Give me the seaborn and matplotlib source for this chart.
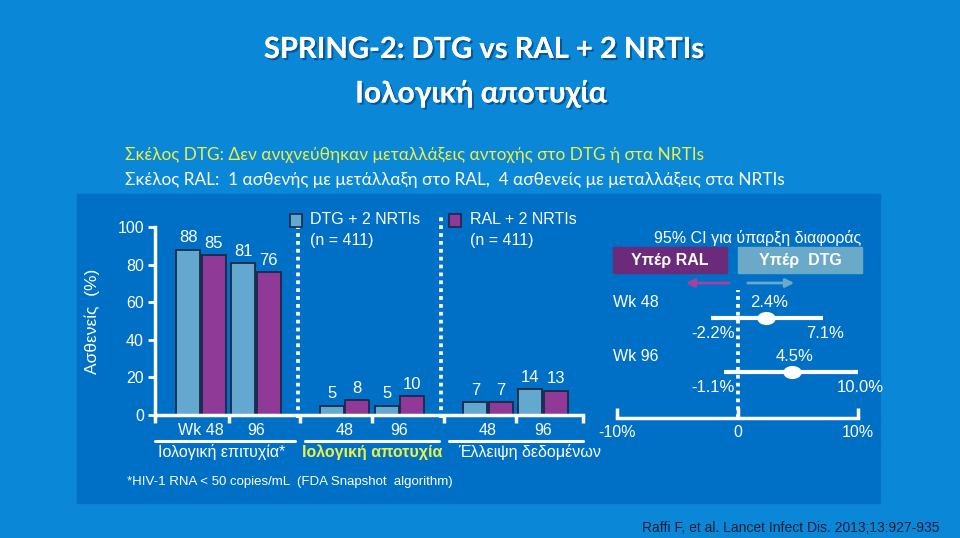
import matplotlib
matplotlib.use("Agg")
import matplotlib.pyplot as plt
import matplotlib.patheffects as pe
from matplotlib.patches import Rectangle, FancyArrowPatch
from matplotlib.path import Path
from matplotlib.transforms import Affine2D
import matplotlib.transforms as mtrans
import pandas as pd
import seaborn as sns

# ---------------- data ----------------
arms = ["DTG + 2 NRTIs", "RAL + 2 NRTIs"]
arm_n = ["(n = 411)", "(n = 411)"]
group_labels = ["Ιολογική επιτυχία*", "Ιολογική αποτυχία", "Έλλειψη δεδομένων"]
week_labels = ["Wk 48", "96", "48", "96", "48", "96"]
dtg_values = [88, 81, 5, 5, 7, 14]
ral_values = [85, 76, 8, 10, 7, 13]
y_ticks = [0, 20, 40, 60, 80, 100]

ci_rows = ["Wk 48", "Wk 96"]
ci_diff = [2.4, 4.5]
ci_low = [-2.2, -1.1]
ci_high = [7.1, 10.0]
ci_ticks = [-10, 0, 10]
ci_tick_labels = ["-10%", "0", "10%"]

title_1 = "SPRING-2: DTG vs RAL + 2 NRTIs"
title_2 = "Ιολογική αποτυχία"
sub_1 = "Σκέλος DTG: Δεν ανιχνεύθηκαν μεταλλάξεις αντοχής στο DTG ή στα NRTIs"
sub_2 = "Σκέλος RAL:  1 ασθενής με μετάλλαξη στο RAL,  4 ασθενείς με μεταλλάξεις στα NRTIs"
footnote = "*HIV-1 RNA < 50 copies/mL  (FDA Snapshot  algorithm)"
citation = "Raffi F, et al. Lancet Infect Dis. 2013;13:927-935"
ci_header = "95% CI για ύπαρξη διαφοράς"
favor_ral = "Υπέρ RAL"
favor_dtg = "Υπέρ  DTG"
ylabel = "Ασθενείς  (%)"

# ---------------- style ----------------
OUTER = "#0a87d6"
PANEL = "#0070c6"
DTG_C = "#63a9cf"
RAL_C = "#8e3a96"
EDGE = "#1b2846"
YELLOW = "#eef04a"
WHITE = "white"

sns.set_theme(style="ticks")
plt.rcParams["font.family"] = ["Liberation Sans", "DejaVu Sans"]
plt.rcParams["text.color"] = WHITE
plt.rcParams["axes.labelcolor"] = WHITE
plt.rcParams["xtick.color"] = WHITE
plt.rcParams["ytick.color"] = WHITE

W, H = 960, 538
fig = plt.figure(figsize=(9.6, 5.38), dpi=100, facecolor=OUTER)


def fx(x):
    return x / W


def fy(y):
    return 1 - y / H


# inner panel
fig.patches.append(Rectangle((fx(77), fy(503)), fx(880) - fx(77), fy(194) - fy(503),
                             transform=fig.transFigure, color=PANEL, zorder=-5))

# titles
title_font = ["Lato", "Open Sans", "DejaVu Sans"]
shadow = [pe.withSimplePatchShadow(offset=(1.5, -1.5), shadow_rgbFace="#002850", alpha=0.5), pe.Normal()]
fig.text(fx(484), fy(50), title_1, ha="center", va="center", fontsize=21, fontweight="bold",
         family=title_font, color=WHITE, path_effects=shadow)
fig.text(fx(481), fy(93), title_2, ha="center", va="center", fontsize=21.5, fontweight="bold",
         family=title_font, color=WHITE, path_effects=shadow)
fig.text(fx(125), fy(155), sub_1, ha="left", va="center", fontsize=12.4, family=title_font, color=YELLOW)
fig.text(fx(125), fy(180), sub_2, ha="left", va="center", fontsize=12.4, family=title_font, color=WHITE)

# ---------------- bar chart ----------------
ax = fig.add_axes([fx(155), fy(415), fx(583) - fx(155), fy(227) - fy(415)])
ax.set_facecolor("none")

group_gap = 2.61
positions = [g * group_gap + w for g in range(3) for w in range(2)]
df = pd.DataFrame({
    "pos": positions * 2,
    "arm": [arms[0]] * 6 + [arms[1]] * 6,
    "value": dtg_values + ral_values,
})
sns.barplot(data=df, x="pos", y="value", hue="arm", hue_order=arms, native_scale=True,
            palette=[DTG_C, RAL_C], saturation=1, width=0.92, gap=0.05, errorbar=None,
            edgecolor=EDGE, linewidth=1.3, legend=False, ax=ax)

for cont in ax.containers:
    ax.bar_label(cont, fmt="%g", padding=3, color=WHITE, fontsize=12)

x_left = (155 - 201) / 55
x_right = (583 - 201) / 55
ax.set_xlim(x_left, x_right)
ax.set_ylim(0, 100)
ax.set_yticks(y_ticks)
ax.set_xticks(positions)
ax.set_xticklabels(week_labels, fontsize=11.5)
ax.tick_params(axis="x", length=0, pad=6)
bounds = [x_left] + [(positions[i] + positions[i + 1]) / 2 for i in range(5)] + [x_right]
ax.set_xticks(bounds, minor=True)
ax.tick_params(axis="x", which="minor", length=6, width=2.5, color=WHITE, direction="out")
ax.tick_params(axis="y", length=5, width=2, color=WHITE, labelsize=11.5, pad=3)
for s in ["top", "right"]:
    ax.spines[s].set_visible(False)
for s in ["left", "bottom"]:
    ax.spines[s].set_color(WHITE)
    ax.spines[s].set_linewidth(2.5)
ax.set_xlabel("")
ax.set_ylabel(ylabel, fontsize=12.5)
ax.yaxis.set_label_coords((100 - 155) / 428, 0.5)

blend = mtrans.blended_transform_factory(ax.transData, ax.transAxes)
# dotted separators
for i in (1, 3):
    xs = (positions[i] + positions[i + 1]) / 2 - 0.05
    ax.plot([xs, xs], [-0.016, 1.053], transform=blend, color=WHITE, lw=2.7,
            linestyle=(0, (1, 1.1)), clip_on=False)
# group underlines and labels
for g in range(3):
    a = bounds[2 * g] + (0.0 if g == 0 else 0.09)
    b = bounds[2 * g + 2] - (0.09 if g < 2 else 0.0)
    ax.plot([a, b], [-0.138, -0.138], transform=blend, color=WHITE, lw=2.2, clip_on=False)
    cx = g * group_gap + 0.5
    if g == 1:
        ax.text(cx, -0.197, group_labels[g], transform=blend, ha="center", va="center",
                fontsize=11.5, fontweight="bold", color=YELLOW)
    else:
        ax.text(cx + (-0.12 if g == 0 else 0.25), -0.197, group_labels[g], transform=blend,
                ha="center", va="center", fontsize=11.5, color=WHITE)

# legend (manual)
for (lx, tx), col, name, n in zip([(290, 310), (449, 470)], [DTG_C, RAL_C], arms, arm_n):
    fig.patches.append(Rectangle((fx(lx), fy(227)), fx(12), 13 / H, transform=fig.transFigure,
                                 facecolor=col, edgecolor=EDGE, lw=1.2, zorder=3))
    fig.text(fx(tx), fy(220), name, ha="left", va="center", fontsize=11.5)
    fig.text(fx(tx), fy(240), n, ha="left", va="center", fontsize=11.5)

fig.text(fx(127), fy(482), footnote, ha="left", va="center", fontsize=9.5)

# ---------------- forest plot ----------------
fx_ax = fig.add_axes([fx(617), fy(418), fx(858) - fx(617), fy(290) - fy(418)])
fx_ax.set_facecolor("none")
rows_y = list(range(len(ci_rows)))
fx_ax.set_xlim(-10, 10)
fx_ax.set_ylim(1.85, -0.52)
fx_ax.axvline(0, color=WHITE, lw=2.7, linestyle=(0, (1, 1.1)), zorder=1)
fx_ax.hlines(rows_y, ci_low, ci_high, color=WHITE, lw=3, zorder=2)
ellipse = Path(Affine2D().scale(1.45, 1.0).transform(Path.unit_circle().vertices),
               Path.unit_circle().codes)
sns.scatterplot(x=ci_diff, y=rows_y, marker=ellipse, s=150, color=WHITE, edgecolor=WHITE,
                zorder=3, ax=fx_ax, legend=False)
for yv, lab, d, lo, hi in zip(rows_y, ci_rows, ci_diff, ci_low, ci_high):
    fx_ax.annotate(lab, (-10, yv), xytext=(-4, 16), textcoords="offset pixels",
                   ha="left", va="center", fontsize=11.5, color=WHITE)
    fx_ax.annotate(f"{d:.1f}%", (d, yv), xytext=(3, 16), textcoords="offset pixels",
                   ha="center", va="center", fontsize=12, color=WHITE)
    fx_ax.annotate(f"{lo:.1f}%", (0, yv), xytext=(-3, -15), textcoords="offset pixels",
                   ha="right", va="center", fontsize=12, color=WHITE)
    fx_ax.annotate(f"{hi:.1f}%", (hi, yv), xytext=(2, -15), textcoords="offset pixels",
                   ha="center", va="center", fontsize=12, color=WHITE)
fx_ax.set_xticks(ci_ticks)
fx_ax.set_xticklabels(ci_tick_labels, fontsize=11.5)
fx_ax.tick_params(axis="x", direction="in", length=7, width=2.5, color=WHITE, pad=5)
fx_ax.set_yticks([])
for s in ["top", "right", "left"]:
    fx_ax.spines[s].set_visible(False)
fx_ax.spines["bottom"].set_color(WHITE)
fx_ax.spines["bottom"].set_linewidth(2.5)

fig.text(fx(758), fy(238), ci_header, ha="center", va="center", fontsize=11.5)
for (x0, x1), col, lab in zip([(613, 727), (738, 862)], ["#6b2a7a", "#6aaac8"], [favor_ral, favor_dtg]):
    fig.patches.append(Rectangle((fx(x0), fy(273)), fx(x1 - x0), 26 / H, transform=fig.transFigure,
                                 color=col, zorder=1))
    fig.text(fx((x0 + x1) / 2), fy(260), lab, ha="center", va="center", fontsize=11.5,
             fontweight="bold", color=WHITE)
fig.patches.append(FancyArrowPatch((fx(732), fy(283)), (fx(683), fy(283)),
                   transform=fig.transFigure, arrowstyle="-|>,head_length=5,head_width=2.5",
                   color="#a8409e", lw=2))
fig.patches.append(FancyArrowPatch((fx(745), fy(283)), (fx(797), fy(283)),
                   transform=fig.transFigure, arrowstyle="-|>,head_length=5,head_width=2.5",
                   color="#6aaac8", lw=2))

fig.text(fx(940), fy(528), citation, ha="right", va="center", fontsize=10, color="#0d1f3a")

fig.savefig("out.png", dpi=100, facecolor=OUTER)
